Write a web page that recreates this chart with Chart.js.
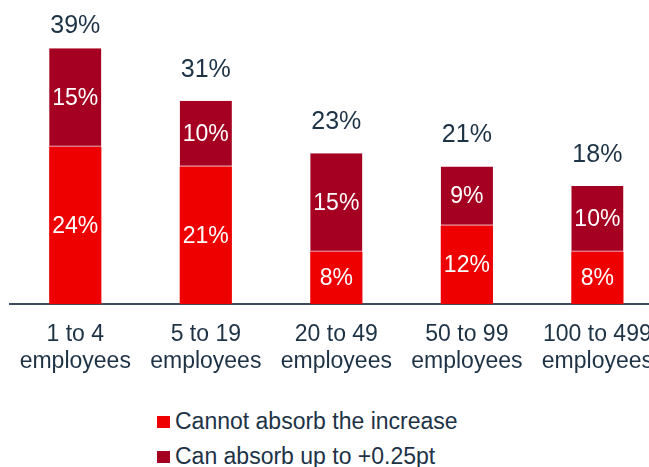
<!DOCTYPE html>
<html>
<head>
<meta charset="utf-8">
<script src="https://cdn.jsdelivr.net/npm/chart.js@4/dist/chart.umd.min.js"></script>
<style>
  html, body { margin: 0; padding: 0; background: #fff; overflow: hidden; }
  #wrap { position: relative; width: 649px; height: 467px; overflow: hidden; }
  #box { position: absolute; left: 0; top: 0; width: 670px; height: 400px; }
  .leg { position: absolute; left: 157px; font: 23px "Liberation Sans", Arial, sans-serif; color: #1e3246; white-space: nowrap; line-height: 24px; }
  .leg i { display: inline-block; width: 13px; height: 12px; margin-right: 5px; vertical-align: 1px; }
</style>
</head>
<body>
<div id="wrap">
  <div id="box"><canvas id="chart"></canvas></div>
  <div class="leg" style="top:409px"><i style="background:#ee0000"></i>Cannot absorb the increase</div>
  <div class="leg" style="top:444px"><i style="background:#a50021"></i>Can absorb up to +0.25pt</div>
</div>
<script>
var categories = [['1 to 4', 'employees'], ['5 to 19', 'employees'], ['20 to 49', 'employees'], ['50 to 99', 'employees'], ['100 to 499', 'employees']];
var cannotAbsorb = [24, 21, 8, 12, 8];
var canAbsorb = [15, 10, 15, 9, 10];
var totals = [39, 31, 23, 21, 18];

var textColor = '#1e3246';
var fontFamily = '"Liberation Sans", Arial, sans-serif';

// writes the % values inside each segment and the total above each bar
var labelPlugin = {
    id: 'barLabels',
    afterDatasetsDraw: function(chart) {
        var ctx = chart.ctx;
        ctx.save();
        ctx.textAlign = 'center';
        ctx.textBaseline = 'middle';
        ctx.fillStyle = '#ffffff';
        ctx.font = '23px ' + fontFamily;
        chart.data.datasets.forEach(function(ds, i) {
            chart.getDatasetMeta(i).data.forEach(function(bar, j) {
                var mid = (bar.y + bar.base) / 2;
                ctx.fillText(ds.data[j] + '%', bar.x, mid + 1);
            });
        });
        var topMeta = chart.getDatasetMeta(1);
        ctx.fillStyle = textColor;
        ctx.font = '25px ' + fontFamily;
        topMeta.data.forEach(function(bar, j) {
            var y = Math.max(bar.y - 31, 26);
            ctx.fillText(totals[j] + '%', bar.x, y);
        });
        ctx.restore();
    }
};

var chart = new Chart(document.getElementById('chart'), {
    type: 'bar',
    data: {
        labels: categories,
        datasets: [{
            label: 'Cannot absorb the increase',
            data: cannotAbsorb,
            backgroundColor: '#ee0000',
            borderWidth: 0,
            barPercentage: 0.4,
            categoryPercentage: 1
        }, {
            label: 'Can absorb up to +0.25pt',
            data: canAbsorb,
            backgroundColor: '#a50021',
            borderColor: '#d45070',
            borderWidth: {top: 0, bottom: 1, left: 0, right: 0},
            borderSkipped: false,
            barPercentage: 0.4,
            categoryPercentage: 1
        }]
    },
    options: {
        responsive: true,
        maintainAspectRatio: false,
        animation: false,
        layout: { padding: { left: 10, right: 0, top: 9, bottom: 8 } },
        plugins: {
            legend: { display: false },
            tooltip: { enabled: false }
        },
        scales: {
            x: {
                stacked: true,
                grid: { display: false, drawTicks: false },
                border: { display: true, color: '#3d4d5d', width: 2 },
                ticks: {
                    color: textColor,
                    padding: 17,
                    maxRotation: 0,
                    autoSkip: false,
                    font: { family: fontFamily, size: 23, lineHeight: 1.17 }
                }
            },
            y: {
                stacked: true,
                display: false,
                min: 0,
                max: 45
            }
        }
    },
    plugins: [labelPlugin]
});
</script>
</body>
</html>
